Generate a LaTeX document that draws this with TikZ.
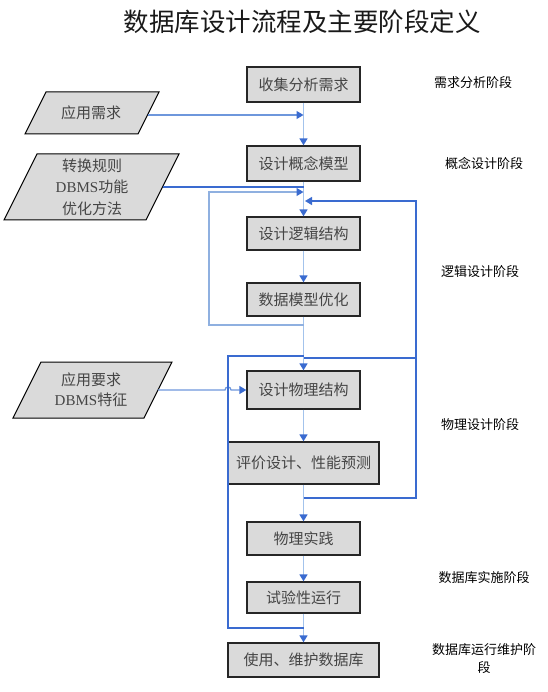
\documentclass[tikz,border=0pt]{standalone}
\usepackage{fontspec}
\setmainfont{Noto Sans CJK SC}
\newfontfamily\latinfont{Liberation Serif}
\usetikzlibrary{arrows.meta}
\definecolor{boxfill}{HTML}{DADADA}
\definecolor{boxtext}{HTML}{454545}
\definecolor{darkblue}{HTML}{3A6BD0}
\definecolor{lightblue}{HTML}{A3C3EC}
\definecolor{midblue}{HTML}{6E97DC}
\definecolor{paleblue}{HTML}{8FB0E0}
\begin{document}
\begin{tikzpicture}[x=1pt,y=-1pt,
  stepbox/.style={draw=black!85, line width=1.3pt, fill=boxfill, text=boxtext,
    font=\fontsize{15}{18}\selectfont, inner sep=0pt, minimum width=113pt},
  widebox/.style={stepbox, minimum width=151pt},
  stage/.style={font=\fontsize{13}{18}\selectfont, text=black, align=center},
  para/.style={draw=black, line width=1pt, fill=boxfill},
  paratext/.style={text=boxtext, align=center, inner sep=0pt},
  flow/.style={lightblue, line width=1.5pt},
  loopline/.style={darkblue, line width=1.3pt},
  looplight/.style={paleblue, line width=1.3pt},
  tip/.style={-{Triangle[length=7pt,width=8pt,color=darkblue]}}
]
\useasboundingbox (0,0) rectangle (547,692);

% title
\node[font=\fontsize{25.5}{30}\selectfont, text=black!90] (title) at (302,22) {数据库设计流程及主要阶段定义};

% main boxes
\node[stepbox, minimum height=35pt] (b1) at (303.5,84.5) {收集分析需求};
\node[stepbox, minimum height=35pt] (b2) at (303.5,163.5) {设计概念模型};
\node[stepbox, minimum height=33pt] (b3) at (303.5,233.5) {设计逻辑结构};
\node[stepbox, minimum height=33pt] (b4) at (303.5,299.5) {数据模型优化};
\node[stepbox, minimum height=38pt] (b5) at (303.5,390) {设计物理结构};
\node[widebox, minimum height=42pt] (b6) at (303.5,463) {评价设计、性能预测};
\node[stepbox, minimum height=33pt] (b7) at (303.5,538.5) {物理实践};
\node[stepbox, minimum height=31pt] (b8) at (303.5,597.5) {试验性运行};
\node[widebox, minimum height=34pt] (b9) at (303.5,660) {使用、维护数据库};

% input parallelograms
\draw[para] (46,92) -- (159,92) -- (138,134) -- (25,134) -- cycle;
\node[paratext, font=\fontsize{15}{18}\selectfont] (A) at (91,113) {应用需求};
\coordinate (Aout) at (148,115);

\draw[para] (37,154) -- (179,154) -- (146,220) -- (4,220) -- cycle;
\node[paratext, font=\fontsize{15}{21.5}\selectfont] (B) at (92,187) {转换规则\\{\latinfont DBMS}功能\\优化方法};
\coordinate (Bout) at (162.5,187);

\draw[para] (41,362) -- (172,362) -- (144,418) -- (13,418) -- cycle;
\node[paratext, font=\fontsize{15}{20}\selectfont] (C) at (91,390) {应用要求\\{\latinfont DBMS}特征};
\coordinate (Cout) at (158,390);

% stage labels
\node[stage] (s1) at (473,83) {需求分析阶段};
\node[stage] (s2) at (484,163) {概念设计阶段};
\node[stage] (s3) at (480,272) {逻辑设计阶段};
\node[stage] (s4) at (480,425) {物理设计阶段};
\node[stage] (s5) at (484,578) {数据库实施阶段};
\node[stage] (s6) at (484,659) {数据库运行维护阶\\段};

% loop corner coordinates
\coordinate (jA) at (303.5,115);
\coordinate (jB) at (303.5,187);
\coordinate (lg0) at (303.5,325);
\coordinate (lg1) at (209,325);
\coordinate (lg2) at (209,192);
\coordinate (lg3) at (303.5,192);
\coordinate (r0) at (303.5,498);
\coordinate (r1) at (416,498);
\coordinate (r2) at (416,201);
\coordinate (r3) at (305,201);
\coordinate (r4) at (416,358);
\coordinate (r5) at (303.5,358);
\coordinate (l0) at (303.5,628);
\coordinate (l1) at (228,628);
\coordinate (l2) at (228,356);
\coordinate (l3) at (303.5,356);
\coordinate (hop) at (225,390);

% main flow
\draw[flow, tip] (b1.south) -- (b2.north);
\draw[flow, tip] (b2.south) -- (b3.north);
\draw[flow, tip] (b3.south) -- (b4.north);
\draw[flow, tip] (b4.south) -- (b5.north);
\draw[flow, tip] (b5.south) -- (b6.north);
\draw[flow, tip] (b6.south) -- (b7.north);
\draw[flow, tip] (b7.south) -- (b8.north);
\draw[flow, tip] (b8.south) -- (b9.north);

% inputs
\draw[midblue, line width=1.3pt, tip] (Aout) -- (jA);
\draw[loopline] (Bout) -- (jB);
\draw[midblue, line width=1.3pt, tip] (Cout) -- (hop) arc[start angle=180, end angle=360, radius=3] -- (b5.west);

% feedback loops
\draw[looplight, tip] (lg0) -- (lg1) -- (lg2) -- (lg3);
\draw[loopline, tip] (r0) -- (r1) -- (r2) -- (r3);
\draw[loopline] (r4) -- (r5);
\draw[loopline] (l0) -- (l1) -- (l2) -- (l3);
\end{tikzpicture}
\end{document}
